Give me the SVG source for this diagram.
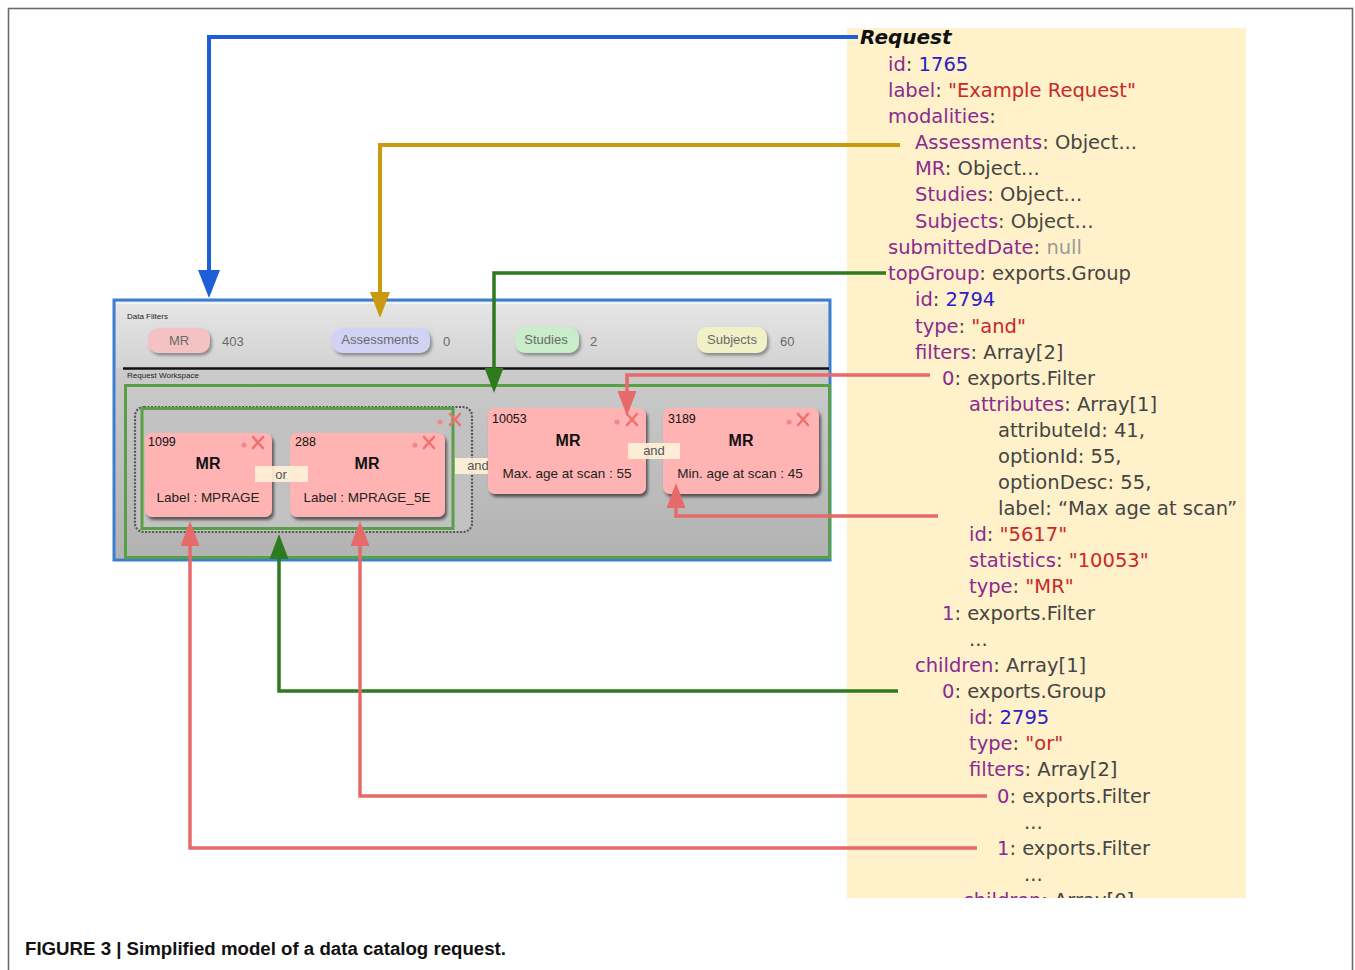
<svg xmlns="http://www.w3.org/2000/svg" width="1355" height="970" viewBox="0 0 1355 970">
<style>
.code{font-family:"DejaVu Sans",Verdana,sans-serif;font-size:19.5px;white-space:pre}
.k{fill:#8b2a90}.v{fill:#454545}.n{fill:#2a20c8}.s{fill:#c9282b}.nl{fill:#9a9a9a}
.ui{font-family:"Liberation Sans",Arial,sans-serif}
.tiny{font-size:8px;fill:#222}
.chipt{font-size:13px;fill:#6a6a6a;text-anchor:middle}
.cnt{font-size:13px;fill:#6a6a6a}
.num{font-size:12.5px;fill:#111}
.mr{font-size:16px;font-weight:bold;fill:#111;text-anchor:middle}
.lbl{font-size:13.5px;fill:#222;text-anchor:middle}
.op{font-size:13px;fill:#555;text-anchor:middle}
.card{fill:#ffb3b3}
.opbox{fill:#fff2d8;opacity:0.9}
.xi{stroke:#f07070;stroke-width:2.6;stroke-linecap:round}
.dot{fill:#f08a8a}
.conn{fill:none;stroke-linejoin:miter}
</style>
<defs>
<filter id="sh" x="-10%" y="-10%" width="130%" height="140%">
<feDropShadow dx="2" dy="3" stdDeviation="1.5" flood-color="#333" flood-opacity="0.75"/>
</filter>
<filter id="shc" x="-10%" y="-20%" width="130%" height="160%">
<feDropShadow dx="2" dy="2.5" stdDeviation="1.5" flood-color="#555" flood-opacity="0.6"/>
</filter>
<linearGradient id="wsg" x1="0" y1="0" x2="0" y2="1">
<stop offset="0" stop-color="#d4d4d4"/>
<stop offset="1" stop-color="#b2b2b2"/>
</linearGradient>
<linearGradient id="dfg" x1="0" y1="0" x2="0" y2="1">
<stop offset="0" stop-color="#e6e6e6"/>
<stop offset="1" stop-color="#d2d2d2"/>
</linearGradient>
<clipPath id="codeclip"><rect x="847" y="28" width="399" height="870"/></clipPath>
<marker id="ah-blue" markerUnits="userSpaceOnUse" markerWidth="28" markerHeight="22" refX="0" refY="11" orient="auto" viewBox="0 0 28 22"><path d="M0,0 L28,11 L0,22 z" fill="#1e5ed6"/></marker>
<marker id="ah-gold" markerUnits="userSpaceOnUse" markerWidth="26" markerHeight="20" refX="0" refY="10" orient="auto" viewBox="0 0 26 20"><path d="M0,0 L26,10 L0,20 z" fill="#c99a0e"/></marker>
<marker id="ah-green" markerUnits="userSpaceOnUse" markerWidth="25" markerHeight="19" refX="0" refY="9.5" orient="auto" viewBox="0 0 25 19"><path d="M0,0 L25,9.5 L0,19 z" fill="#2d7a1f"/></marker>
<marker id="ah-red" markerUnits="userSpaceOnUse" markerWidth="25" markerHeight="19" refX="0" refY="9.5" orient="auto" viewBox="0 0 25 19"><path d="M0,0 L25,9.5 L0,19 z" fill="#e66a6a"/></marker>
</defs>

<rect x="0" y="0" width="1355" height="970" fill="#ffffff"/>
<rect x="8.5" y="8.5" width="1344" height="980" fill="none" stroke="#6a6a6a" stroke-width="1.6"/>

<!-- code panel -->
<g id="code-panel">
<rect x="847" y="28" width="399" height="870" fill="#fff1c9"/>
<g class="code" clip-path="url(#codeclip)">
<text x="860" y="44" font-weight="bold" font-style="italic" fill="#111" font-size="20">Request</text>
<text x="888" y="71"><tspan class="k">id</tspan><tspan class="v">: </tspan><tspan class="n">1765</tspan></text>
<text x="888" y="97"><tspan class="k">label</tspan><tspan class="v">: </tspan><tspan class="s">"Example Request"</tspan></text>
<text x="888" y="123"><tspan class="k">modalities</tspan><tspan class="v">:</tspan></text>
<text x="915" y="149"><tspan class="k">Assessments</tspan><tspan class="v">: Object...</tspan></text>
<text x="915" y="175"><tspan class="k">MR</tspan><tspan class="v">: Object...</tspan></text>
<text x="915" y="201"><tspan class="k">Studies</tspan><tspan class="v">: Object...</tspan></text>
<text x="915" y="228"><tspan class="k">Subjects</tspan><tspan class="v">: Object…</tspan></text>
<text x="888" y="254"><tspan class="k">submittedDate</tspan><tspan class="v">: </tspan><tspan class="nl">null</tspan></text>
<text x="888" y="280"><tspan class="k">topGroup</tspan><tspan class="v">: exports.Group</tspan></text>
<text x="915" y="306"><tspan class="k">id</tspan><tspan class="v">: </tspan><tspan class="n">2794</tspan></text>
<text x="915" y="333"><tspan class="k">type</tspan><tspan class="v">: </tspan><tspan class="s">"and"</tspan></text>
<text x="915" y="359"><tspan class="k">filters</tspan><tspan class="v">: Array[2]</tspan></text>
<text x="942" y="385"><tspan class="k">0</tspan><tspan class="v">: exports.Filter</tspan></text>
<text x="969" y="411"><tspan class="k">attributes</tspan><tspan class="v">: Array[1]</tspan></text>
<text x="998" y="437" class="v">attributeId: 41,</text>
<text x="998" y="463" class="v">optionId: 55,</text>
<text x="998" y="489" class="v">optionDesc: 55,</text>
<text x="998" y="515" class="v">label: “Max age at scan”</text>
<text x="969" y="541"><tspan class="k">id</tspan><tspan class="v">: </tspan><tspan class="s">"5617"</tspan></text>
<text x="969" y="567"><tspan class="k">statistics</tspan><tspan class="v">: </tspan><tspan class="s">"10053"</tspan></text>
<text x="969" y="593"><tspan class="k">type</tspan><tspan class="v">: </tspan><tspan class="s">"MR"</tspan></text>
<text x="942" y="620"><tspan class="k">1</tspan><tspan class="v">: exports.Filter</tspan></text>
<text x="969" y="646" class="v">...</text>
<text x="915" y="672"><tspan class="k">children</tspan><tspan class="v">: Array[1]</tspan></text>
<text x="942" y="698"><tspan class="k">0</tspan><tspan class="v">: exports.Group</tspan></text>
<text x="969" y="724"><tspan class="k">id</tspan><tspan class="v">: </tspan><tspan class="n">2795</tspan></text>
<text x="969" y="750"><tspan class="k">type</tspan><tspan class="v">: </tspan><tspan class="s">"or"</tspan></text>
<text x="969" y="776"><tspan class="k">filters</tspan><tspan class="v">: Array[2]</tspan></text>
<text x="997" y="803"><tspan class="k">0</tspan><tspan class="v">: exports.Filter</tspan></text>
<text x="1024" y="829" class="v">...</text>
<text x="997" y="855"><tspan class="k">1</tspan><tspan class="v">: exports.Filter</tspan></text>
<text x="1024" y="881" class="v">...</text>
<text x="963" y="907"><tspan class="k">children</tspan><tspan class="v">: Array[0]</tspan></text>
</g>
</g>

<!-- UI panel -->
<g id="ui-panel">
<rect x="114" y="300" width="716" height="260" fill="url(#wsg)" stroke="#3a7fd0" stroke-width="3"/>
<rect x="116" y="302" width="712" height="66" fill="url(#dfg)"/>
<line x1="116" y1="303" x2="828" y2="303" stroke="#f8f8f8" stroke-width="1.5"/>
<line x1="123" y1="368.5" x2="829" y2="368.5" stroke="#111" stroke-width="2.5"/>
<text class="ui tiny" x="127" y="319">Data Filters</text>
<text class="ui tiny" x="127" y="378">Request Workspace</text>
</g>

<g id="chip-mr">
<rect x="148" y="328" width="62" height="25" rx="10" fill="#f4c2c2" filter="url(#shc)"/>
<text class="ui chipt" x="179" y="345">MR</text>
<text class="ui cnt" x="222" y="346">403</text>
</g>
<g id="chip-assessments">
<rect x="332" y="328" width="98" height="25" rx="10" fill="#d2d2f4" filter="url(#shc)"/>
<text class="ui chipt" x="380" y="344">Assessments</text>
<text class="ui cnt" x="443" y="346">0</text>
</g>
<g id="chip-studies">
<rect x="515" y="327" width="64" height="26" rx="10" fill="#c9ecc9" filter="url(#shc)"/>
<text class="ui chipt" x="546" y="344">Studies</text>
<text class="ui cnt" x="590" y="346">2</text>
</g>
<g id="chip-subjects">
<rect x="697" y="327" width="70" height="26" rx="10" fill="#f1f1c8" filter="url(#shc)"/>
<text class="ui chipt" x="732" y="344">Subjects</text>
<text class="ui cnt" x="780" y="346">60</text>
</g>

<g id="group-and">
<rect x="125.5" y="385.5" width="704" height="172" fill="none" stroke="#58a045" stroke-width="3"/>
</g>

<g id="group-or">
<rect x="135" y="407" width="337" height="125" rx="9" fill="#c2c2c2" stroke="#555" stroke-width="2.2" stroke-dasharray="2 1.5"/>
<rect x="142" y="408.5" width="311" height="120" fill="none" stroke="#58a045" stroke-width="3"/>
<circle class="dot" cx="440" cy="422" r="2.6"/>
<path class="xi" d="M450,414 L460,425 M460,414 L450,425"/>
</g>

<g id="card-1099">
<rect class="card" x="145" y="433" width="127" height="84" rx="7" filter="url(#sh)"/>
<text class="ui num" x="148" y="446">1099</text>
<text class="ui mr" x="208" y="469">MR</text>
<text class="ui lbl" x="208" y="502">Label : MPRAGE</text>
<circle class="dot" cx="244" cy="445" r="2.6"/>
<path class="xi" d="M253,437 L263,448 M263,437 L253,448"/>
</g>
<g id="card-288">
<rect class="card" x="290" y="433" width="155" height="84" rx="7" filter="url(#sh)"/>
<text class="ui num" x="295" y="446">288</text>
<text class="ui mr" x="367" y="469">MR</text>
<text class="ui lbl" x="367" y="502">Label : MPRAGE_5E</text>
<circle class="dot" cx="415" cy="445" r="2.6"/>
<path class="xi" d="M424,437 L434,448 M434,437 L424,448"/>
</g>
<g id="op-or">
<rect class="opbox" x="255" y="466" width="53" height="16"/>
<text class="ui op" x="281" y="479">or</text>
</g>
<g id="op-and-1">
<rect class="opbox" x="455" y="458" width="46" height="16"/>
<text class="ui op" x="478" y="470">and</text>
</g>
<g id="card-10053">
<rect class="card" x="488" y="408" width="158" height="86" rx="7" filter="url(#sh)"/>
<text class="ui num" x="492" y="423">10053</text>
<text class="ui mr" x="568" y="446">MR</text>
<text class="ui lbl" x="567" y="478">Max. age at scan : 55</text>
<circle class="dot" cx="617" cy="422" r="2.6"/>
<path class="xi" d="M627,414 L637,425 M637,414 L627,425"/>
</g>
<g id="card-3189">
<rect class="card" x="663" y="408" width="156" height="86" rx="7" filter="url(#sh)"/>
<text class="ui num" x="668" y="423">3189</text>
<text class="ui mr" x="741" y="446">MR</text>
<text class="ui lbl" x="740" y="478">Min. age at scan : 45</text>
<circle class="dot" cx="789" cy="422" r="2.6"/>
<path class="xi" d="M798,414 L808,425 M808,414 L798,425"/>
</g>
<g id="op-and-2">
<rect class="opbox" x="628" y="443" width="52" height="16"/>
<text class="ui op" x="654" y="455">and</text>
</g>

<!-- connectors -->
<g id="connectors">
<path class="conn" d="M858,37 H209 V270" stroke="#1e5ed6" stroke-width="4" marker-end="url(#ah-blue)"/>
<path class="conn" d="M900,145 H380 V292" stroke="#c99a0e" stroke-width="4" marker-end="url(#ah-gold)"/>
<path class="conn" d="M886,273 H494 V368" stroke="#2d7a1f" stroke-width="3.5" marker-end="url(#ah-green)"/>
<path class="conn" d="M898,691 H279 V559" stroke="#2d7a1f" stroke-width="3.5" marker-end="url(#ah-green)"/>
<path class="conn" d="M930,375 H627 V391" stroke="#e66a6a" stroke-width="3.5" marker-end="url(#ah-red)"/>
<path class="conn" d="M938,516 H676 V508" stroke="#e66a6a" stroke-width="3.5" marker-end="url(#ah-red)"/>
<path class="conn" d="M987,796 H360 V546" stroke="#e66a6a" stroke-width="3.5" marker-end="url(#ah-red)"/>
<path class="conn" d="M977,848 H190 V546" stroke="#e66a6a" stroke-width="3.5" marker-end="url(#ah-red)"/>
</g>

<g id="caption">
<text class="ui" x="25" y="955" font-size="18" font-weight="bold" fill="#111" textLength="481" lengthAdjust="spacingAndGlyphs">FIGURE 3 | Simplified model of a data catalog request.</text>
</g>
</svg>
